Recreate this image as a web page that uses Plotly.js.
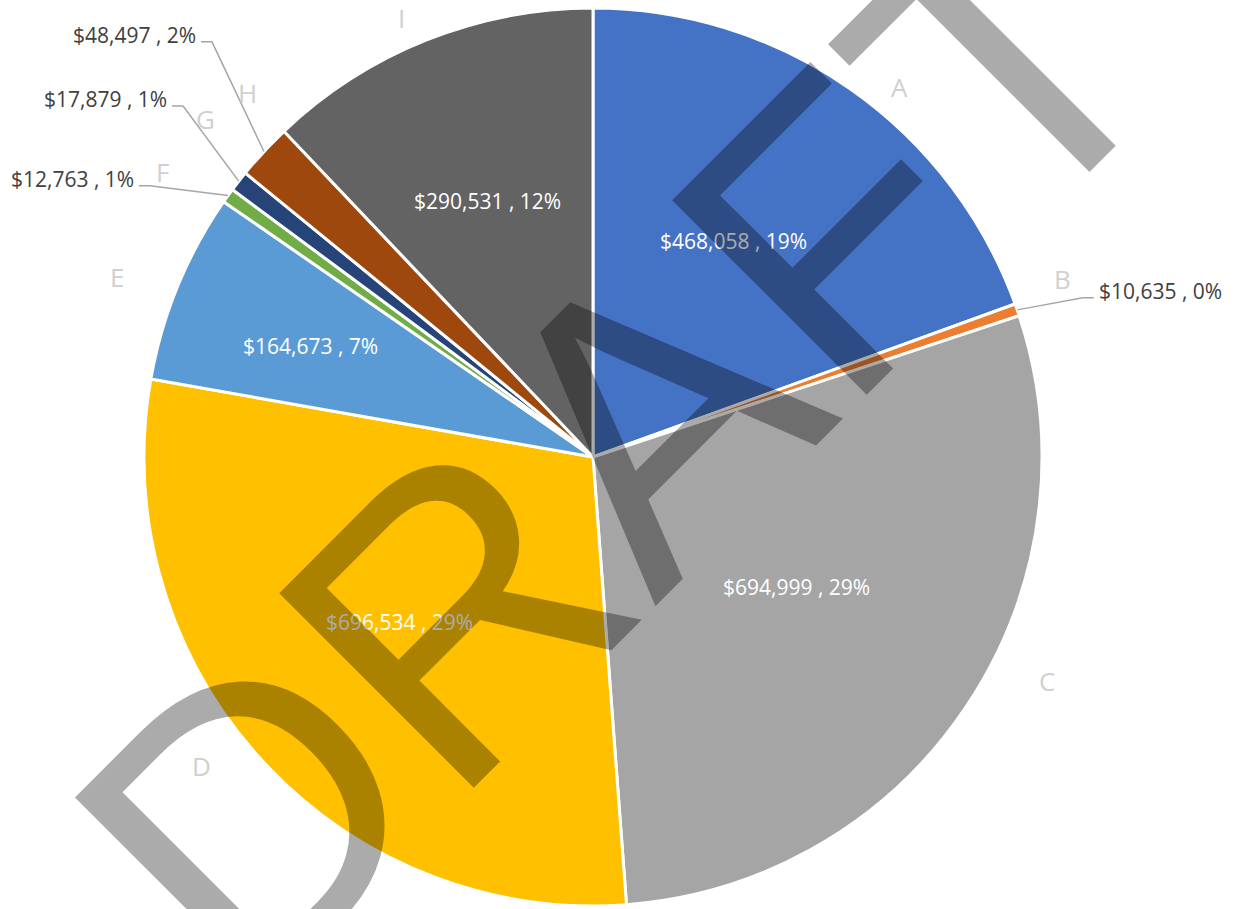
<!DOCTYPE html>
<html><head><meta charset="utf-8">
<script src="https://cdn.plot.ly/plotly-3.0.1.min.js"></script>
<style>html,body{margin:0;padding:0;background:#fff;} #chart{width:1239px;height:909px;}</style>
</head><body><div id="chart"></div>
<script>
// ---- data ----
const categories = ['A','B','C','D','E','F','G','H','I'];
const amounts = [468058, 10635, 694999, 696534, 164673, 12763, 17879, 48497, 290531];
const sliceColors = ['#4472C4','#ED7D31','#A5A5A5','#FFC000','#5B9BD5','#70AD47','#264478','#9E480E','#636363'];
const watermarkText = 'DRAFT';

// ---- label layout (angle delta from slice mid-angle in deg, radius as fraction of pie radius) ----
const insideLabels = {A:[-2.0,0.573], C:[-1.1,0.539], D:[1.7,0.566], E:[-0.9,0.677], I:[-0.6,0.617]};
const outsideLabels = {B:[1.13,1.147,'right'], F:[-4.15,1.157,'left'], G:[2.67,1.202,'left'], H:[4.58,1.255,'left']};
const categoryLabelPos = {A:[4.56,1.070], B:[-1.67,1.118], C:[-7.4,1.127], D:[3.84,1.110], E:[-1.63,1.134], F:[-2.1,1.149], G:[3.2,1.144], H:[3.58,1.118], I:[-1.85,1.067]};

const W = 1239, H = 909;
const dom = {x:[144/W, 1042/W], y:[1-906/H, 1-8/H]};
const cx = (dom.x[0]+dom.x[1])/2*W, cy = (1-(dom.y[0]+dom.y[1])/2)*H;
const R = Math.min((dom.x[1]-dom.x[0])*W, (dom.y[1]-dom.y[0])*H)/2;
const total = amounts.reduce((a,b)=>a+b, 0);
let cum = 0;
const mid = amounts.map(v => { const m = (cum + v/2)/total*360; cum += v; return m; });
function pt(angDeg, rf){ const a = angDeg*Math.PI/180; return [cx + rf*R*Math.sin(a), cy - rf*R*Math.cos(a)]; }
const px = x => x/W, py = y => 1 - y/H;
function commas(n){ return String(n).replace(/\B(?=(\d{3})+(?!\d))/g, ','); }
const labelText = i => '$' + commas(amounts[i]) + ' , ' + Math.round(amounts[i]/total*100) + '%';

const annotations = [];
const shapes = [];
const valFont = {family:'Open Sans', size:21};

categories.forEach((c, i) => {
  // category name
  const cp = categoryLabelPos[c];
  const p = pt(mid[i] + cp[0], cp[1]);
  annotations.push({xref:'paper', yref:'paper', x:px(p[0]), y:py(p[1]), text:c, showarrow:false,
    xanchor:'center', yanchor:'middle', borderpad:0,
    font:{family:'Open Sans', size:26, color:'#d0d0d0'}});
  if (insideLabels[c]) {
    const ip = insideLabels[c];
    const q = pt(mid[i] + ip[0], ip[1]);
    annotations.push({xref:'paper', yref:'paper', x:px(q[0]), y:py(q[1]), text:labelText(i), showarrow:false,
      xanchor:'center', yanchor:'middle', borderpad:0, font:Object.assign({color:'#ffffff'}, valFont)});
  } else if (outsideLabels[c]) {
    const op = outsideLabels[c];
    const s = pt(mid[i], 1.0);
    const e = pt(mid[i] + op[0], op[1]);
    const dir = op[2] === 'right' ? 1 : -1;
    const hx = e[0] + dir*11;
    shapes.push({type:'path', xref:'paper', yref:'paper',
      path:'M '+px(s[0])+','+py(s[1])+' L '+px(e[0])+','+py(e[1])+' L '+px(hx)+','+py(e[1]),
      line:{color:'#a6a6a6', width:1.5}});
    annotations.push({xref:'paper', yref:'paper', x:px(hx + dir*4), y:py(e[1]-7), text:labelText(i), showarrow:false,
      xanchor: dir===1 ? 'left' : 'right', yanchor:'middle', borderpad:0,
      font:Object.assign({color:'#404040'}, valFont)});
  }
});

// watermark on top
annotations.push({xref:'paper', yref:'paper', x:px(619), y:py(446), text:watermarkText, showarrow:false,
  xanchor:'center', yanchor:'middle', textangle:-45, borderpad:0,
  font:{family:'Liberation Sans', size:400, color:'rgba(0,0,0,0.33)'}});

const trace = {
  type:'pie', labels:categories, values:amounts, sort:false, direction:'clockwise', rotation:0,
  marker:{colors:sliceColors, line:{color:'#ffffff', width:3}},
  textinfo:'none', hoverinfo:'skip', domain:dom, showlegend:false
};

Plotly.newPlot('chart', [trace], {
  width:W, height:H, margin:{l:0,r:0,t:0,b:0,pad:0},
  paper_bgcolor:'#ffffff', plot_bgcolor:'#ffffff', showlegend:false,
  annotations:annotations, shapes:shapes
}, {staticPlot:true, displayModeBar:false});
</script>
</body></html>
